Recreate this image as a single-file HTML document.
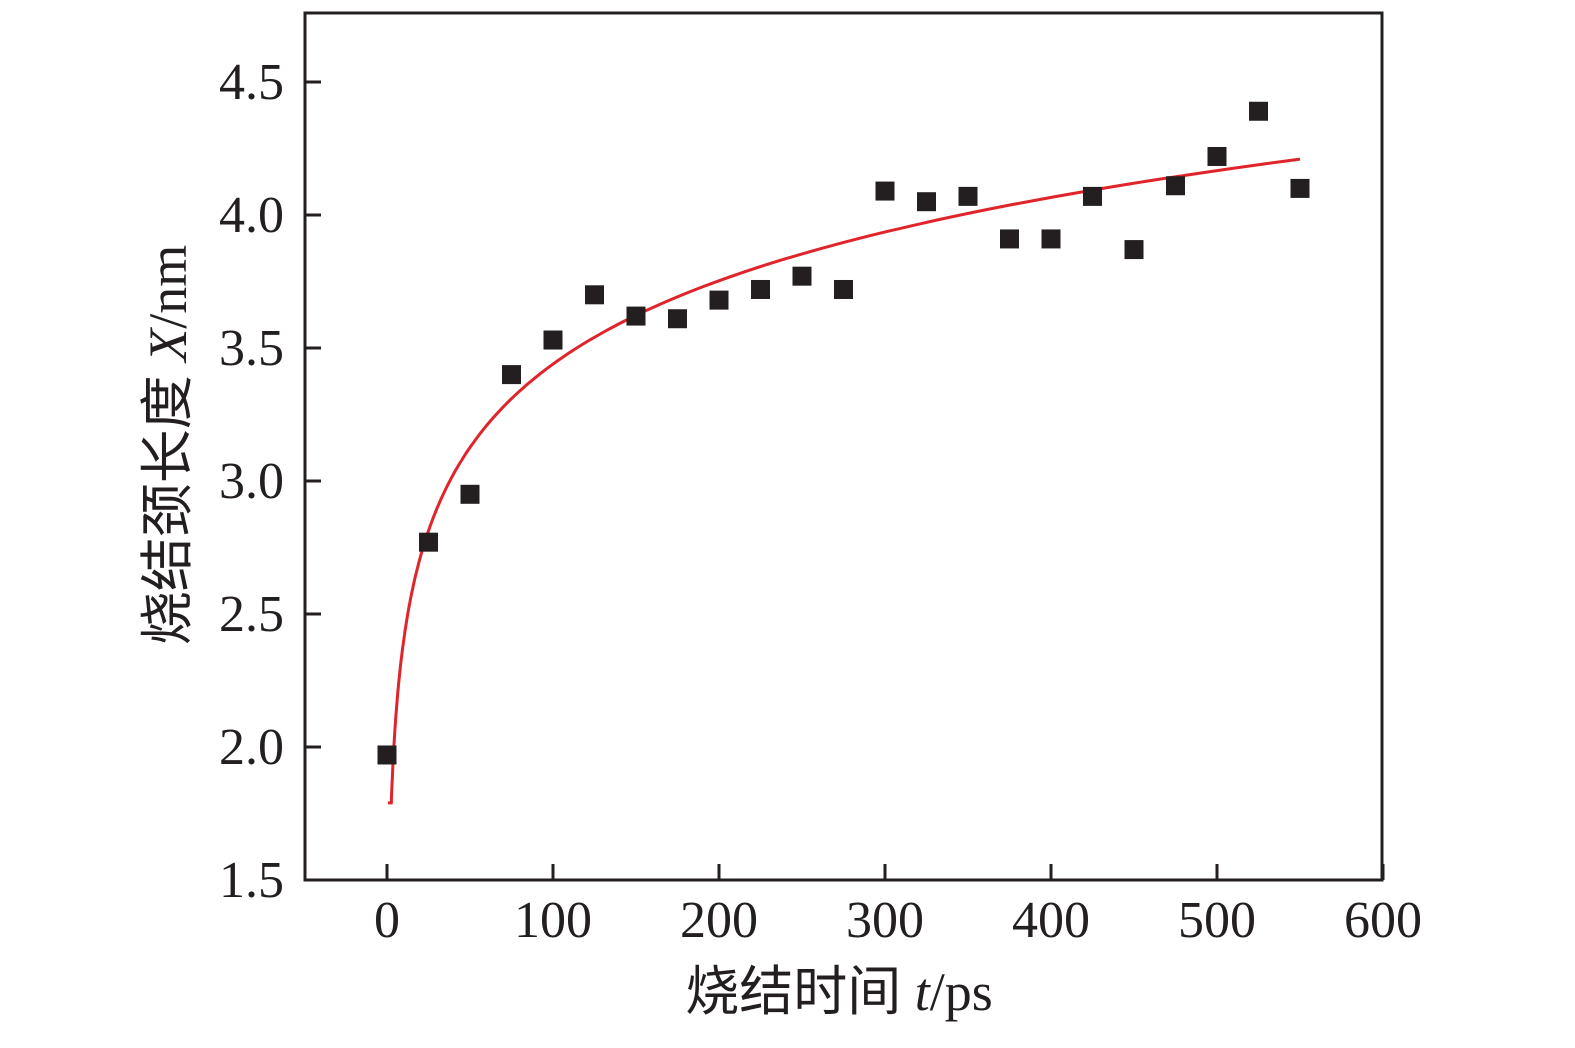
<!DOCTYPE html>
<html><head><meta charset="utf-8"><style>body{margin:0;background:#fff}</style></head><body>
<svg width="1575" height="1043" xmlns="http://www.w3.org/2000/svg" font-family="'Liberation Serif','Noto Serif CJK SC',serif">
<g stroke="#231f20" stroke-width="3" fill="none">
<rect x="305" y="13" width="1077" height="867"/>
</g>
<g id="ticks" stroke="#231f20" stroke-width="3"></g>
<g id="labels" font-size="52" fill="#231f20"></g>
<path id="curve" fill="none" stroke="#e0242b" stroke-width="3"/>
<g id="pts" fill="#231f20"></g>
<text x="186" y="445" font-size="54" fill="#231f20" text-anchor="middle" transform="rotate(-90 186 445)" font-family="'Liberation Serif','Noto Sans CJK SC',serif">烧结颈长度 <tspan font-style="italic">X</tspan>/nm</text>
<text x="839" y="1010" font-size="54" fill="#231f20" text-anchor="middle" font-family="'Liberation Serif','Noto Sans CJK SC',serif">烧结时间 <tspan font-style="italic">t</tspan>/ps</text>
</svg>
<script>
const X=t=>387+t*1.66, Y=v=>880-(v-1.5)*266;
const ns="http://www.w3.org/2000/svg";
function el(p,n,a,txt){const e=document.createElementNS(ns,n);for(const k in a)e.setAttribute(k,a[k]);if(txt!==undefined)e.textContent=txt;document.getElementById(p).appendChild(e);}
for(let t=0;t<=600;t+=100){el('ticks','line',{x1:X(t),x2:X(t),y1:880,y2:864});el('labels','text',{x:X(t),y:937,'text-anchor':'middle'},t);}
for(let v=1.5;v<=4.51;v+=0.5){el('ticks','line',{x1:305,x2:321,y1:Y(v),y2:Y(v)});el('labels','text',{x:284,y:Y(v)+17,'text-anchor':'end'},v.toFixed(1));}
let d='';for(let i=0;i<=300;i++){const t=1.1*Math.pow(550/1.1,i/300);const v=1.358+0.452*Math.log(t);d+='L'+X(t).toFixed(1)+' '+Y(Math.max(v,1.79)).toFixed(1);}
document.getElementById('curve').setAttribute('d','M388 803 '+d);
const data=[1.97,2.77,2.95,3.40,3.53,3.70,3.62,3.61,3.68,3.72,3.77,3.72,4.09,4.05,4.07,3.91,3.91,4.07,3.87,4.11,4.22,4.39,4.10];
data.forEach((v,i)=>el('pts','rect',{x:X(i*25)-9.5,y:Y(v)-9.5,width:19,height:19}));
</script>
</body></html>
